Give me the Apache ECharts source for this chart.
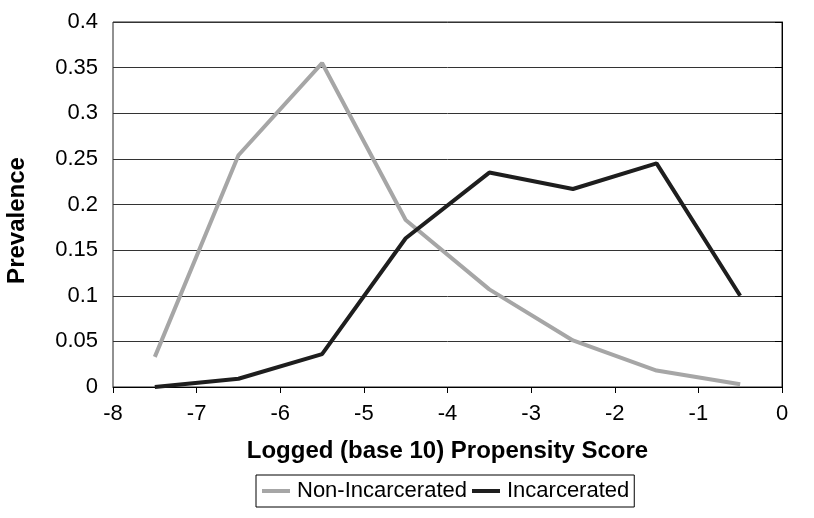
<!DOCTYPE html>
<html>
<head>
<meta charset="utf-8">
<script src="https://cdn.jsdelivr.net/npm/echarts@6/dist/echarts.min.js"></script>
<style>
  html, body { margin: 0; padding: 0; background: #fff; }
  #container { width: 814px; height: 518px; }
</style>
</head>
<body>
<div id="container"></div>
<script>
var scoreBins = [-7.5, -6.5, -5.5, -4.5, -3.5, -2.5, -1.5, -0.5];
var nonIncarcerated = [0.033, 0.254, 0.355, 0.183, 0.107, 0.051, 0.018, 0.003];
var incarcerated = [0.000, 0.009, 0.036, 0.163, 0.235, 0.217, 0.245, 0.100];

function pairs(xs, ys) {
    var out = [];
    for (var i = 0; i < xs.length; i++) {
        out.push([xs[i], ys[i]]);
    }
    return out;
}

var font = "Liberation Sans, Arial, sans-serif";
var myChart = echarts.init(document.getElementById("container"));
var option = {
    animation: false,
    textStyle: { fontFamily: font },
    grid: {
        left: 113, right: 32, top: 22, bottom: 131,
        outerBoundsMode: "none",
        containLabel: false,
        show: true, borderColor: "#222", borderWidth: 1
    },
    legend: {
        bottom: 11,
        left: 256,
        data: ["Non-Incarcerated", "Incarcerated"],
        icon: "rect",
        itemWidth: 28,
        itemHeight: 4,
        itemGap: 5,
        padding: [5, 5, 5, 6],
        borderColor: "#000",
        borderWidth: 1,
        textStyle: { fontSize: 22, color: "#000", fontFamily: font, padding: [0, 0, 0, 2] }
    },
    xAxis: {
        type: "value",
        min: -8, max: 0, interval: 1,
        name: "Logged (base 10) Propensity Score",
        nameLocation: "middle",
        nameGap: 52,
        nameTextStyle: { fontSize: 24, fontWeight: "bold", color: "#000", fontFamily: font },
        axisLine: { show: true, lineStyle: { color: "#000", width: 1 } },
        axisTick: { show: true, inside: false, length: 6, lineStyle: { color: "#000" } },
        axisLabel: { fontSize: 22, color: "#000", margin: 16, fontFamily: font },
        splitLine: { show: false }
    },
    yAxis: {
        type: "value",
        min: 0, max: 0.4, interval: 0.05,
        name: "Prevalence",
        nameLocation: "middle",
        nameGap: 84,
        nameRotate: 90,
        nameTextStyle: { fontSize: 24, fontWeight: "bold", color: "#000", fontFamily: font, padding: [0, 32, 0, 0] },
        axisLine: { show: true, lineStyle: { color: "#000", width: 1 } },
        axisTick: { show: true, inside: false, length: 7, lineStyle: { color: "#000" } },
        axisLabel: { fontSize: 22, color: "#000", margin: 15, fontFamily: font },
        splitLine: { show: true, lineStyle: { color: "#333", width: 1 } }
    },
    series: [
        {
            name: "Non-Incarcerated",
            type: "line",
            data: pairs(scoreBins, nonIncarcerated),
            showSymbol: false,
            symbol: "none",
            lineStyle: { color: "#a6a6a6", width: 4 },
            itemStyle: { color: "#a6a6a6" }
        },
        {
            name: "Incarcerated",
            type: "line",
            data: pairs(scoreBins, incarcerated),
            showSymbol: false,
            symbol: "none",
            lineStyle: { color: "#1e1e1e", width: 4 },
            itemStyle: { color: "#1e1e1e" }
        }
    ]
};
myChart.setOption(option);
</script>
</body>
</html>
